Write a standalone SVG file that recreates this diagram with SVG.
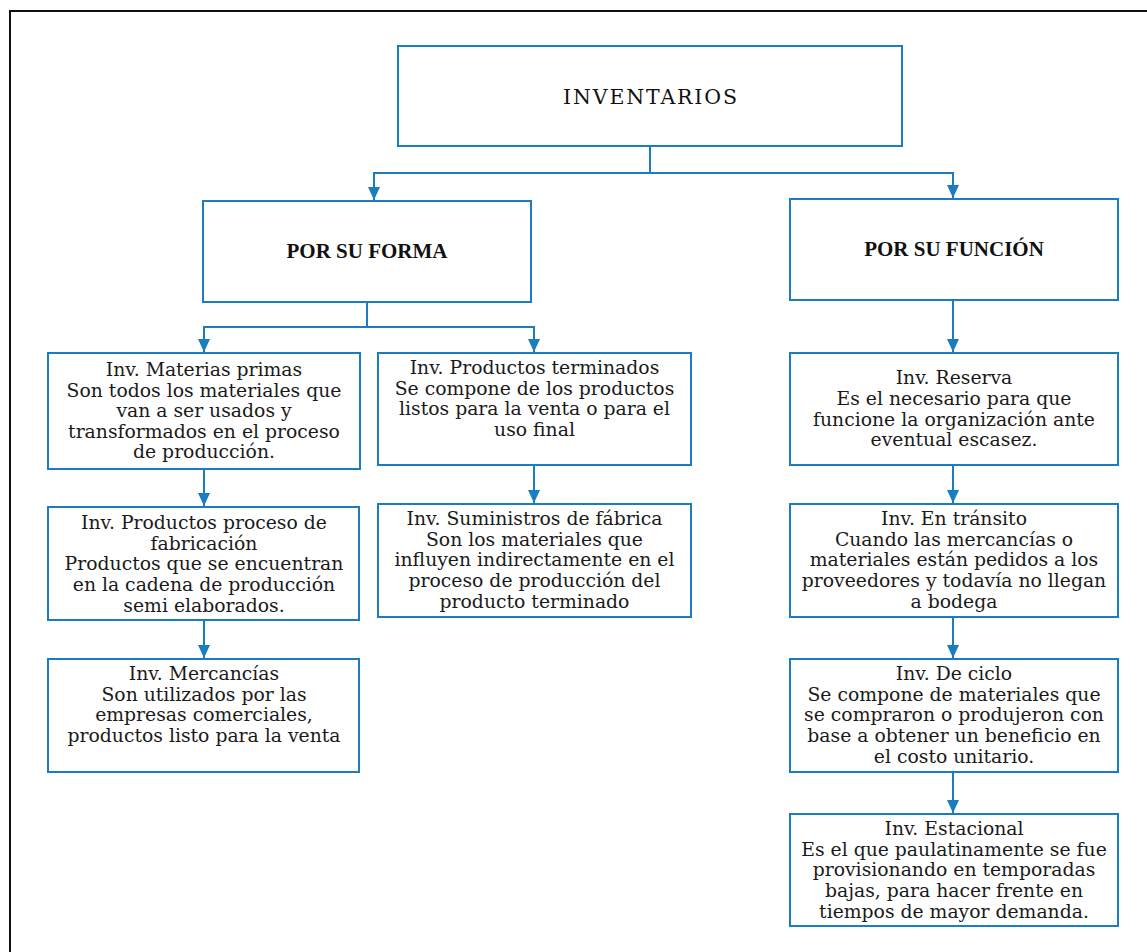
<svg xmlns="http://www.w3.org/2000/svg" width="1147" height="952" viewBox="0 0 1147 952">
  <style>
    .box { fill: #ffffff; stroke: #1a7dc0; stroke-width: 2; }
    .con { fill: none; stroke: #1a7dc0; stroke-width: 2; }
    .t { font-family: "DejaVu Serif", "Liberation Serif", serif; font-size: 18.8px; fill: #1a1a1a; text-anchor: middle; }
    .h { font-family: "Liberation Serif", "DejaVu Serif", serif; font-weight: bold; font-size: 21px; fill: #111; text-anchor: middle; }
    .top { font-family: "DejaVu Serif", "Liberation Serif", serif; font-size: 20.5px; fill: #111; text-anchor: middle; }
  </style>
  <defs>
    <marker id="arr" viewBox="0 0 13 12" refX="13" refY="6" markerWidth="13" markerHeight="12" markerUnits="userSpaceOnUse" orient="auto">
      <path d="M0,0 L13,6 L0,12 z" fill="#1a7dc0"/>
    </marker>
  </defs>
  <rect width="1147" height="952" fill="#ffffff"/>
  <path d="M10,952 V11 H1147" fill="none" stroke="#111" stroke-width="2"/>

  <g id="connectors">
    <path class="con" d="M650,146 V173 H374 V200" marker-end="url(#arr)"/>
    <path class="con" d="M650,173 H953 V198" marker-end="url(#arr)"/>
    <path class="con" d="M367,302 V327 H204 V352" marker-end="url(#arr)"/>
    <path class="con" d="M367,327 H534 V352" marker-end="url(#arr)"/>
    <path class="con" d="M953,300 V352" marker-end="url(#arr)"/>
    <path class="con" d="M204,469 V506" marker-end="url(#arr)"/>
    <path class="con" d="M204,620 V658" marker-end="url(#arr)"/>
    <path class="con" d="M534,465 V503" marker-end="url(#arr)"/>
    <path class="con" d="M953,465 V503" marker-end="url(#arr)"/>
    <path class="con" d="M953,617 V658" marker-end="url(#arr)"/>
    <path class="con" d="M953,772 V813" marker-end="url(#arr)"/>
  </g>

  <g id="inventarios">
    <rect class="box" x="398" y="46" width="504" height="100"/>
    <text class="top" x="650" y="104" textLength="174" lengthAdjust="spacing">INVENTARIOS</text>
  </g>

  <g id="por-su-forma">
    <rect class="box" x="203" y="201" width="328" height="101"/>
    <text class="h" x="367" y="258">POR SU FORMA</text>
  </g>

  <g id="por-su-funcion">
    <rect class="box" x="790" y="199" width="328" height="101"/>
    <text class="h" x="954" y="256">POR SU FUNCIÓN</text>
  </g>

  <g id="materias-primas">
    <rect class="box" x="48" y="353" width="312" height="116"/>
    <text class="t" x="204" y="376">Inv. Materias primas</text>
    <text class="t" x="204" y="396.6">Son todos los materiales que</text>
    <text class="t" x="204" y="417.2">van a ser usados y</text>
    <text class="t" x="204" y="437.8">transformados en el proceso</text>
    <text class="t" x="204" y="458.4">de producción.</text>
  </g>

  <g id="productos-proceso">
    <rect class="box" x="48" y="507" width="311" height="113"/>
    <text class="t" x="204" y="529">Inv. Productos proceso de</text>
    <text class="t" x="204" y="549.7">fabricación</text>
    <text class="t" x="204" y="570.4">Productos que se encuentran</text>
    <text class="t" x="204" y="591.1">en la cadena de producción</text>
    <text class="t" x="204" y="611.8">semi elaborados.</text>
  </g>

  <g id="mercancias">
    <rect class="box" x="48" y="659" width="311" height="113"/>
    <text class="t" x="204" y="680">Inv. Mercancías</text>
    <text class="t" x="204" y="700.7">Son utilizados por las</text>
    <text class="t" x="204" y="721.4">empresas comerciales,</text>
    <text class="t" x="204" y="742.1">productos listo para la venta</text>
  </g>

  <g id="productos-terminados">
    <rect class="box" x="378" y="353" width="313" height="112"/>
    <text class="t" x="534.5" y="374">Inv. Productos terminados</text>
    <text class="t" x="534.5" y="394.7">Se compone de los productos</text>
    <text class="t" x="534.5" y="415.4">listos para la venta o para el</text>
    <text class="t" x="534.5" y="436.1">uso final</text>
  </g>

  <g id="suministros">
    <rect class="box" x="378" y="504" width="313" height="113"/>
    <text class="t" x="534.5" y="525">Inv. Suministros de fábrica</text>
    <text class="t" x="534.5" y="545.7">Son los materiales que</text>
    <text class="t" x="534.5" y="566.4">influyen indirectamente en el</text>
    <text class="t" x="534.5" y="587.1">proceso de producción del</text>
    <text class="t" x="534.5" y="607.8">producto terminado</text>
  </g>

  <g id="reserva">
    <rect class="box" x="790" y="353" width="328" height="112"/>
    <text class="t" x="954" y="384.3">Inv. Reserva</text>
    <text class="t" x="954" y="405">Es el necesario para que</text>
    <text class="t" x="954" y="425.7">funcione la organización ante</text>
    <text class="t" x="954" y="446.4">eventual escasez.</text>
  </g>

  <g id="en-transito">
    <rect class="box" x="790" y="504" width="328" height="113"/>
    <text class="t" x="954" y="525">Inv. En tránsito</text>
    <text class="t" x="954" y="545.7">Cuando las mercancías o</text>
    <text class="t" x="954" y="566.4">materiales están pedidos a los</text>
    <text class="t" x="954" y="587.1">proveedores y todavía no llegan</text>
    <text class="t" x="954" y="607.8">a bodega</text>
  </g>

  <g id="de-ciclo">
    <rect class="box" x="790" y="659" width="328" height="113"/>
    <text class="t" x="954" y="680">Inv. De ciclo</text>
    <text class="t" x="954" y="700.7">Se compone de materiales que</text>
    <text class="t" x="954" y="721.4">se compraron o produjeron con</text>
    <text class="t" x="954" y="742.1">base a obtener un beneficio en</text>
    <text class="t" x="954" y="762.8">el costo unitario.</text>
  </g>

  <g id="estacional">
    <rect class="box" x="790" y="814" width="328" height="112"/>
    <text class="t" x="954" y="835">Inv. Estacional</text>
    <text class="t" x="954" y="855.7">Es el que paulatinamente se fue</text>
    <text class="t" x="954" y="876.4">provisionando en temporadas</text>
    <text class="t" x="954" y="897.1">bajas, para hacer frente en</text>
    <text class="t" x="954" y="917.8">tiempos de mayor demanda.</text>
  </g>
</svg>
